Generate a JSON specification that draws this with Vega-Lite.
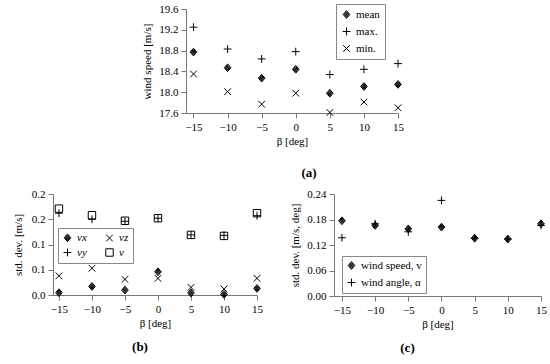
{
  "$schema": "https://vega.github.io/schema/vega-lite/v6.json",
  "padding": {"left": 12, "top": 3, "right": 5, "bottom": 5},
  "config": {
    "font": "Liberation Serif",
    "view": {"stroke": null},
    "axis": {
      "grid": false,
      "domainColor": "#777",
      "tickColor": "#777",
      "tickSize": 5,
      "labelPadding": 3,
      "labelFont": "Liberation Serif",
      "titleFont": "Liberation Serif",
      "labelFontSize": 11,
      "titleFontSize": 11,
      "titleFontWeight": "normal",
      "labelColor": "black",
      "titleColor": "black",
      "labelFlush": false,
      "labelOverlap": false
    },
    "legend": {
      "labelFont": "Liberation Serif",
      "labelFontSize": 11,
      "labelColor": "black",
      "strokeColor": "#888",
      "fillColor": "white",
      "padding": 5,
      "symbolSize": 55,
      "symbolStrokeColor": "black",
      "symbolStrokeWidth": 1,
      "rowPadding": 3
    },
    "style": {
      "guide-label": {"font": "Liberation Serif"},
      "guide-title": {"font": "Liberation Serif"}
    },
    "title": {"font": "Liberation Serif", "fontSize": 13, "fontWeight": "bold", "color": "black"}
  },
  "resolve": {"scale": {"shape": "independent"}, "legend": {"shape": "independent"}},
  "datasets": {
    "a": [
      {"beta": -15, "value": 18.77, "series": "mean"},
      {"beta": -10, "value": 18.47, "series": "mean"},
      {"beta": -5, "value": 18.27, "series": "mean"},
      {"beta": 0, "value": 18.44, "series": "mean"},
      {"beta": 5, "value": 17.98, "series": "mean"},
      {"beta": 10, "value": 18.11, "series": "mean"},
      {"beta": 15, "value": 18.15, "series": "mean"},
      {"beta": -15, "value": 19.25, "series": "max."},
      {"beta": -10, "value": 18.83, "series": "max."},
      {"beta": -5, "value": 18.64, "series": "max."},
      {"beta": 0, "value": 18.78, "series": "max."},
      {"beta": 5, "value": 18.34, "series": "max."},
      {"beta": 10, "value": 18.44, "series": "max."},
      {"beta": 15, "value": 18.55, "series": "max."},
      {"beta": -15, "value": 18.35, "series": "min."},
      {"beta": -10, "value": 18.01, "series": "min."},
      {"beta": -5, "value": 17.77, "series": "min."},
      {"beta": 0, "value": 17.98, "series": "min."},
      {"beta": 5, "value": 17.61, "series": "min."},
      {"beta": 10, "value": 17.81, "series": "min."},
      {"beta": 15, "value": 17.70, "series": "min."}
    ],
    "b": [
      {"beta": -15, "value": 0.0046, "series": "vx"},
      {"beta": -10, "value": 0.017, "series": "vx"},
      {"beta": -5, "value": 0.0098, "series": "vx"},
      {"beta": 0, "value": 0.046, "series": "vx"},
      {"beta": 5, "value": 0.004, "series": "vx"},
      {"beta": 10, "value": 0.0013, "series": "vx"},
      {"beta": 15, "value": 0.013, "series": "vx"},
      {"beta": -15, "value": 0.038, "series": "vz"},
      {"beta": -10, "value": 0.053, "series": "vz"},
      {"beta": -5, "value": 0.031, "series": "vz"},
      {"beta": 0, "value": 0.033, "series": "vz"},
      {"beta": 5, "value": 0.015, "series": "vz"},
      {"beta": 10, "value": 0.012, "series": "vz"},
      {"beta": 15, "value": 0.033, "series": "vz"},
      {"beta": -15, "value": 0.162, "series": "vy"},
      {"beta": -10, "value": 0.150, "series": "vy"},
      {"beta": -5, "value": 0.146, "series": "vy"},
      {"beta": 0, "value": 0.152, "series": "vy"},
      {"beta": 5, "value": 0.119, "series": "vy"},
      {"beta": 10, "value": 0.118, "series": "vy"},
      {"beta": 15, "value": 0.157, "series": "vy"},
      {"beta": -15, "value": 0.171, "series": "v"},
      {"beta": -10, "value": 0.158, "series": "v"},
      {"beta": -5, "value": 0.147, "series": "v"},
      {"beta": 0, "value": 0.152, "series": "v"},
      {"beta": 5, "value": 0.119, "series": "v"},
      {"beta": 10, "value": 0.117, "series": "v"},
      {"beta": 15, "value": 0.162, "series": "v"}
    ],
    "c": [
      {"beta": -15, "value": 0.177, "series": "wind speed, v"},
      {"beta": -10, "value": 0.166, "series": "wind speed, v"},
      {"beta": -5, "value": 0.158, "series": "wind speed, v"},
      {"beta": 0, "value": 0.162, "series": "wind speed, v"},
      {"beta": 5, "value": 0.136, "series": "wind speed, v"},
      {"beta": 10, "value": 0.134, "series": "wind speed, v"},
      {"beta": 15, "value": 0.170, "series": "wind speed, v"},
      {"beta": -15, "value": 0.137, "series": "wind angle, α"},
      {"beta": -10, "value": 0.170, "series": "wind angle, α"},
      {"beta": -5, "value": 0.151, "series": "wind angle, α"},
      {"beta": 0, "value": 0.225, "series": "wind angle, α"},
      {"beta": 5, "value": 0.136, "series": "wind angle, α"},
      {"beta": 10, "value": 0.134, "series": "wind angle, α"},
      {"beta": 15, "value": 0.166, "series": "wind angle, α"}
    ],
    "blank": [{"k": 1}]
  },
  "vconcat": [
    {
      "hconcat": [
        {
          "width": 88, "height": 10,
          "data": {"name": "blank"},
          "mark": {"type": "point", "opacity": 0},
          "encoding": {}
        },
        {
          "width": 212, "height": 104,
          "data": {"name": "a"},
          "mark": {"type": "point", "filled": false, "stroke": "black", "strokeWidth": 1, "size": 55, "opacity": 1},
          "encoding": {
            "x": {"field": "beta", "type": "quantitative",
              "scale": {"domain": [-16.1, 15], "nice": false, "zero": false},
              "axis": {"values": [-15, -10, -5, 0, 5, 10, 15], "title": "β [deg]", "titlePadding": 3}},
            "y": {"field": "value", "type": "quantitative",
              "scale": {"domain": [17.6, 19.6], "nice": false, "zero": false},
              "axis": {"values": [17.6, 18.0, 18.4, 18.8, 19.2, 19.6], "format": ".1f", "title": "wind speed [m/s]", "titlePadding": 6}},
            "shape": {"field": "series", "type": "nominal",
              "scale": {"domain": ["mean", "max.", "min."], "range": ["M0,-1.05L0.9,0L0,1.05L-0.9,0ZM0,-0.76L0.65,0L0,0.76L-0.65,0ZM0,-0.47L0.4,0L0,0.47L-0.4,0ZM0,-0.18L0.15,0L0,0.18L-0.15,0ZM-0.15,0L0.15,0", "M-1.05,0L1.05,0M0,-1.05L0,1.05", "M-0.9,-0.9L0.9,0.9M-0.9,0.9L0.9,-0.9"]},
              "legend": {"title": null, "orient": "none", "legendX": 150, "legendY": -5, "rowPadding": 4}}
          },
          "title": {"text": "(a)", "orient": "bottom", "anchor": "middle", "frame": "group", "offset": 21, "dx": 17}
        }
      ],
      "spacing": 0,
      "resolve": {"scale": {"shape": "independent"}, "legend": {"shape": "independent"}}
    },
    {
      "hconcat": [
        {
          "width": 204, "height": 101,
          "data": {"name": "b"},
          "mark": {"type": "point", "filled": false, "stroke": "black", "strokeWidth": 1, "size": 55, "opacity": 1},
          "encoding": {
            "x": {"field": "beta", "type": "quantitative",
              "scale": {"domain": [-15.9, 15], "nice": false, "zero": false},
              "axis": {"values": [-15, -10, -5, 0, 5, 10, 15], "title": "β [deg]", "titlePadding": 3}},
            "y": {"field": "value", "type": "quantitative",
              "scale": {"domain": [0, 0.2], "nice": false, "zero": false},
              "axis": {"values": [0, 0.05, 0.1, 0.15, 0.2], "labelExpr": "datum.value < 0.025 ? '0.0' : datum.value < 0.125 ? '0.1' : '0.2'", "title": "std. dev. [m/s]", "titlePadding": 8}},
            "shape": {"field": "series", "type": "nominal",
              "scale": {"domain": ["vx", "vy", "vz", "v"], "range": ["M0,-1.05L0.9,0L0,1.05L-0.9,0ZM0,-0.76L0.65,0L0,0.76L-0.65,0ZM0,-0.47L0.4,0L0,0.47L-0.4,0ZM0,-0.18L0.15,0L0,0.18L-0.15,0ZM-0.15,0L0.15,0", "M-1.05,0L1.05,0M0,-1.05L0,1.05", "M-0.9,-0.9L0.9,0.9M-0.9,0.9L0.9,-0.9", "square"]},
              "legend": {"title": null, "orient": "none", "legendX": 5, "legendY": 34, "columns": 2, "labelFontStyle": "italic", "columnPadding": 16, "rowPadding": 2, "padding": 4}}
          },
          "title": {"text": "(b)", "orient": "bottom", "anchor": "middle", "frame": "group", "offset": 13, "dx": -15}
        },
        {
          "width": 207, "height": 102,
          "data": {"name": "c"},
          "mark": {"type": "point", "filled": false, "stroke": "black", "strokeWidth": 1, "size": 55, "opacity": 1},
          "encoding": {
            "x": {"field": "beta", "type": "quantitative",
              "scale": {"domain": [-16.2, 15], "nice": false, "zero": false},
              "axis": {"values": [-15, -10, -5, 0, 5, 10, 15], "title": "β [deg]", "titlePadding": 3}},
            "y": {"field": "value", "type": "quantitative",
              "scale": {"domain": [0, 0.24], "nice": false, "zero": false},
              "axis": {"values": [0, 0.06, 0.12, 0.18, 0.24], "format": ".2f", "title": "std. dev. [m/s, deg]", "titlePadding": 6}},
            "shape": {"field": "series", "type": "nominal",
              "scale": {"domain": ["wind speed, v", "wind angle, α"], "range": ["M0,-1.05L0.9,0L0,1.05L-0.9,0ZM0,-0.76L0.65,0L0,0.76L-0.65,0ZM0,-0.47L0.4,0L0,0.47L-0.4,0ZM0,-0.18L0.15,0L0,0.18L-0.15,0ZM-0.15,0L0.15,0", "M-1.05,0L1.05,0M0,-1.05L0,1.05"]},
              "legend": {"title": null, "orient": "none", "legendX": 8, "legendY": 62, "padding": 4, "rowPadding": 4}}
          },
          "title": {"text": "(c)", "orient": "bottom", "anchor": "middle", "frame": "group", "offset": 13, "dx": -30}
        }
      ],
      "spacing": 26,
      "resolve": {"scale": {"shape": "independent"}, "legend": {"shape": "independent"}}
    }
  ],
  "spacing": 8
}
